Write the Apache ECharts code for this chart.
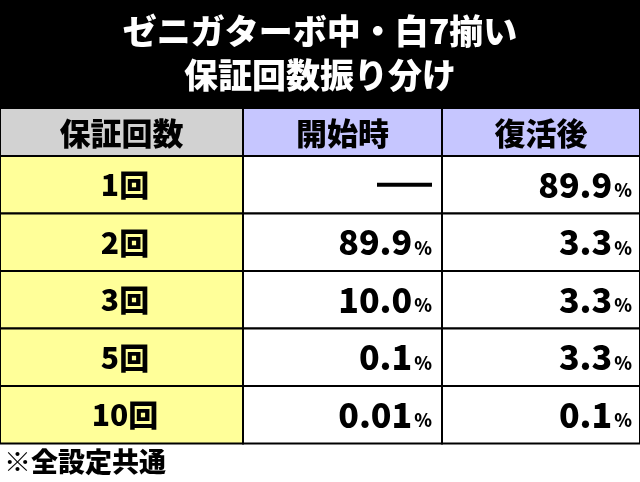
<!DOCTYPE html><html><head><meta charset="utf-8"><script src="https://cdn.jsdelivr.net/npm/echarts@6/dist/echarts.min.js"></script>
<style>html,body{margin:0;padding:0;background:#fff}#c{width:640px;height:482px}</style></head><body><div id="c"></div><script>
var titleLines=['ゼニガターボ中・白7揃い','保証回数振り分け'];
var headers=['保証回数','開始時','復活後'];
var categories=['1回','2回','3回','5回','10回'];
var startVals=[null,'89.9','10.0','0.1','0.01'];
var reviveVals=['89.9','3.3','3.3','3.3','0.1'];
var note='※全設定共通';
var F='"Noto Sans CJK JP"';
var colX=[0,243,442,640], top0=108, hH=48, rH=57.5;
var g=[];
g.push({type:'rect',shape:{x:0,y:0,width:640,height:top0},style:{fill:'#000'}});
titleLines.forEach(function(t,i){g.push({type:'text',style:{text:t,x:320,y:31+i*44,align:'center',verticalAlign:'middle',fill:'#fff',font:'900 34px '+F}});});
var hcol=['#d2d2d2','#c6c6ff','#c6c6ff'];
headers.forEach(function(h,i){
 g.push({type:'rect',shape:{x:colX[i],y:top0,width:colX[i+1]-colX[i],height:hH},style:{fill:hcol[i],stroke:'#000',lineWidth:2}});
 g.push({type:'text',style:{text:h,x:(colX[i]+colX[i+1])/2,y:top0+hH/2+1,align:'center',verticalAlign:'middle',fill:'#000',font:'900 31px '+F}});
});
function val(v,xr,y){
 if(v===null){g.push({type:'rect',shape:{x:xr-55,y:y-2,width:55,height:4},style:{fill:'#000'}});return;}
 g.push({type:'text',style:{text:'{a|'+v+'}{b|%}',x:xr,y:y,align:'right',verticalAlign:'middle',rich:{a:{font:'900 34px '+F,fill:'#000'},b:{font:'900 18px '+F,fill:'#000',padding:[11,0,0,2]}}}});
}
categories.forEach(function(c,r){
 var y=top0+hH+r*rH;
 for(var i=0;i<3;i++)g.push({type:'rect',shape:{x:colX[i],y:y,width:colX[i+1]-colX[i],height:rH},style:{fill:i==0?'#ffff99':'#fff',stroke:'#000',lineWidth:2}});
 g.push({type:'text',style:{text:c,x:125,y:y+rH/2,align:'center',verticalAlign:'middle',fill:'#000',font:'900 30px '+F}});
 val(startVals[r],432,y+rH/2);
 val(reviveVals[r],632,y+rH/2);
});
g.push({type:'text',style:{text:note,x:4,y:462,verticalAlign:'middle',fill:'#000',font:'900 27px '+F}});
var ch=echarts.init(document.getElementById('c'));
ch.setOption({animation:false,graphic:g});
</script></body></html>
